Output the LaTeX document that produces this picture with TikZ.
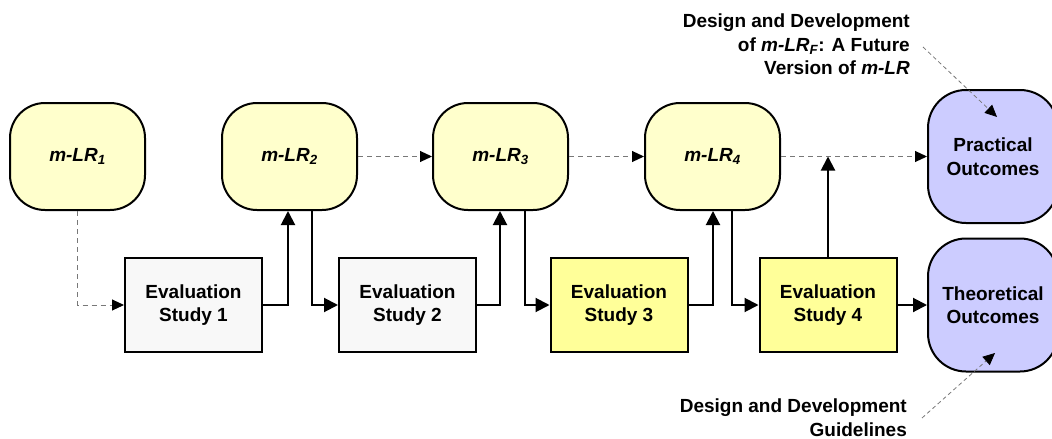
\documentclass[tikz,border=0pt]{standalone}
\usepackage{fontspec}
\setmainfont{Liberation Sans}
\usetikzlibrary{arrows.meta}
\definecolor{lryel}{RGB}{255,255,204}
\definecolor{evgray}{RGB}{248,248,248}
\definecolor{evyel}{RGB}{255,255,153}
\definecolor{outblue}{RGB}{204,204,255}
\definecolor{dashgray}{RGB}{120,120,120}
\begin{document}
\begin{tikzpicture}[x=1pt,y=-1pt,
  font=\fontsize{19}{23.5}\selectfont\bfseries,
  lrbox/.style={draw, line width=2pt, fill=lryel, rounded corners=35pt,
    minimum width=135pt, minimum height=107pt, inner sep=0pt, font=\fontsize{19}{23.5}\selectfont\bfseries\itshape},
  evalbox/.style={draw, line width=2pt, minimum width=137pt, minimum height=94pt, inner sep=0pt, align=center},
  outbox/.style={draw, line width=2pt, fill=outblue, rounded corners=38pt,
    minimum width=130pt, minimum height=133pt, inner sep=0pt, align=center},
  solidarrow/.style={line width=2pt, -{Triangle[length=14pt,width=14pt]}},
  dasharrow/.style={draw=dashgray, line width=1pt, dash pattern=on 5pt off 4pt,
    -{Triangle[length=12pt,width=11pt,color=black]}},
  annot/.style={align=right, inner sep=0pt}
]
\useasboundingbox (0,0) rectangle (1052,439);

\node[lrbox] (m1) at (77.5,156.5) {m-LR\textsubscript{1}};
\node[lrbox] (m2) at (289.5,156.5) {m-LR\textsubscript{2}};
\node[lrbox] (m3) at (500.5,156.5) {m-LR\textsubscript{3}};
\node[lrbox] (m4) at (712.5,156.5) {m-LR\textsubscript{4}};

\node[evalbox, fill=evgray] (e1) at (193.5,305) {Evaluation\\Study 1};
\node[evalbox, fill=evgray] (e2) at (407.5,305) {Evaluation\\Study 2};
\node[evalbox, fill=evyel] (e3) at (619,305) {Evaluation\\Study 3};
\node[evalbox, fill=evyel] (e4) at (828,305) {Evaluation\\Study 4};

\node[outbox] (pr) at (993,156.5) {Practical\\Outcomes};
\node[outbox] (th) at (993,305) {Theoretical\\Outcomes};

% dashed flow
\draw[dasharrow] (m1.south) |- (e1.west);
\draw[dasharrow] (m2.east) -- (m3.west);
\draw[dasharrow] (m3.east) -- (m4.west);
\draw[dasharrow] (m4.east) -- (pr.west);

% solid flow
\draw[solidarrow] (e1.east) -| ([xshift=-1.5pt]m2.south);
\draw[solidarrow] ([xshift=22.5pt]m2.south) |- (e2.west);
\draw[solidarrow] (e2.east) -| ([xshift=-0.5pt]m3.south);
\draw[solidarrow] ([xshift=24.5pt]m3.south) |- (e3.west);
\draw[solidarrow] (e3.east) -| ([xshift=0.5pt]m4.south);
\draw[solidarrow] ([xshift=19.5pt]m4.south) |- (e4.west);
\draw[solidarrow] (e4.north) -- (e4.north |- m4.east);
\draw[solidarrow] (e4.east) -- (th.west);

% annotations
\node[annot, anchor=north east] (a1) at (910,14)
  {Design and Development\\of \textit{m-LR\textsubscript{F}}: A Future\\Version of \textit{m-LR}};
\node[annot, anchor=north east] (a2) at (907,399)
  {Design and Development\\Guidelines};
\coordinate (a1s) at (923,47);
\coordinate (a1e) at (997,117);
\coordinate (a2s) at (922,418);
\coordinate (a2e) at (995,353);
\draw[dasharrow, line width=0.8pt, dash pattern=on 4pt off 3pt] (a1s) -- (a1e);
\draw[dasharrow, line width=0.8pt, dash pattern=on 4pt off 3pt] (a2s) -- (a2e);
\end{tikzpicture}
\end{document}
